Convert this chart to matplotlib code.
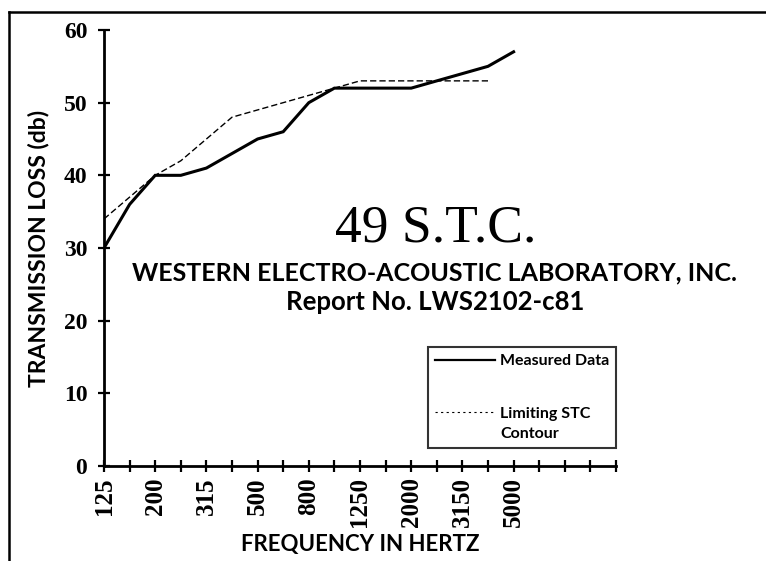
"""Sound transmission loss vs frequency, 49 STC (WEAL report LWS2102-c81)."""
import matplotlib
matplotlib.use("Agg")
import matplotlib.pyplot as plt
from matplotlib.lines import Line2D
from matplotlib.legend_handler import HandlerLine2D

# one-third octave bands, 125 Hz .. 5000 Hz, then blank ticks to fill the axis
BANDS = ["125", "160", "200", "250", "315", "400", "500", "630", "800",
         "1000", "1250", "1600", "2000", "2500", "3150", "4000", "5000"]
N_TICKS = 21
TL_MEASURED = [30, 36, 40, 40, 41, 43, 45, 46, 50, 52, 52, 52, 52, 53, 54, 55, 57]
STC_CONTOUR = [34, 37, 40, 42, 45, 48, 49, 50, 51, 52, 53, 53, 53, 53, 53, 53]

SANS = ["Lato", "DejaVu Sans"]
SERIF = ["Liberation Serif", "DejaVu Serif"]
LEG_SIZE = 11.5


class FirstLineHandler(HandlerLine2D):
    """Put the handle beside the first line of a two-line label."""

    def create_artists(self, legend, orig_handle, xdescent, ydescent, width,
                       height, fontsize, trans):
        arts = super().create_artists(legend, orig_handle, xdescent, ydescent,
                                      width, height, fontsize, trans)
        for a in arts:
            a.set_ydata([y + fontsize * 0.7 for y in a.get_ydata()])
        return arts


fig = plt.figure(figsize=(7.66, 5.61), dpi=100)
ax = fig.add_axes([104 / 766, 1 - 466 / 561, 512 / 766, 436 / 561])

ax.plot(range(len(TL_MEASURED)), TL_MEASURED, color="black", lw=2.2,
        solid_joinstyle="miter")
ax.plot(range(len(STC_CONTOUR)), STC_CONTOUR, color="black", lw=1.0,
        dashes=(4.5, 2.2))

ax.set_xlim(0, N_TICKS - 1)
ax.set_ylim(0, 60)
ax.set_yticks(range(0, 61, 10))
ax.set_xticks(range(N_TICKS))
xlabels = [BANDS[i] if (i < len(BANDS) and i % 2 == 0) else "" for i in range(N_TICKS)]
ax.set_xticklabels(xlabels, rotation=90, family=SERIF, weight="bold", fontsize=18)
for t in ax.get_yticklabels():
    t.set_family(SERIF)
    t.set_weight("bold")
    t.set_fontsize(17)

for s in ("top", "right"):
    ax.spines[s].set_visible(False)
for s in ("left", "bottom"):
    ax.spines[s].set_linewidth(2.0)
ax.tick_params(direction="inout", length=8, width=1.6, color="black")
ax.tick_params(axis="y", pad=8)
ax.tick_params(axis="x", pad=4)

ax.set_ylabel("TRANSMISSION LOSS (db)", family=SANS, weight="bold", fontsize=16.5,
              labelpad=10)
ax.set_xlabel("FREQUENCY IN HERTZ", family=SANS, weight="bold", fontsize=16,
              labelpad=5)

ax.text(0.648, 0.514, "49 S.T.C.", transform=ax.transAxes, ha="center",
        va="baseline", family=SERIF, fontsize=38.5)
ax.text(0.646, 0.425, "WESTERN ELECTRO-ACOUSTIC LABORATORY, INC.",
        transform=ax.transAxes, ha="center", va="baseline", family=SANS,
        weight="bold", fontsize=18)
ax.text(0.646, 0.358, "Report No. LWS2102-c81", transform=ax.transAxes,
        ha="center", va="baseline", family=SANS, weight="bold", fontsize=18.5)

solid_h = Line2D([], [], color="black", lw=1.6)
dash_h = Line2D([], [], color="black", lw=0.8, dashes=(2, 3))
leg = ax.legend([solid_h, dash_h], ["Measured Data", "Limiting STC\nContour"],
                handler_map={dash_h: FirstLineHandler()},
                loc="upper left", bbox_to_anchor=(0.633, 0.273), borderaxespad=0,
                frameon=True, fancybox=False, edgecolor="black",
                handlelength=3.75, handletextpad=0.3, labelspacing=2.4,
                borderpad=0.45, prop={"family": SANS, "weight": "bold",
                                      "size": LEG_SIZE})
leg.get_texts()[1].set_linespacing(1.55)
leg.get_frame().set_linewidth(1.5)

# page border (top and left edges)
fig.add_artist(Line2D([9 / 766, 1], [1 - 12 / 561] * 2, color="black", lw=1.8,
                      transform=fig.transFigure))
fig.add_artist(Line2D([9 / 766] * 2, [1 - 12 / 561, 0], color="black", lw=1.8,
                      transform=fig.transFigure))

fig.savefig("out.png", dpi=100)
